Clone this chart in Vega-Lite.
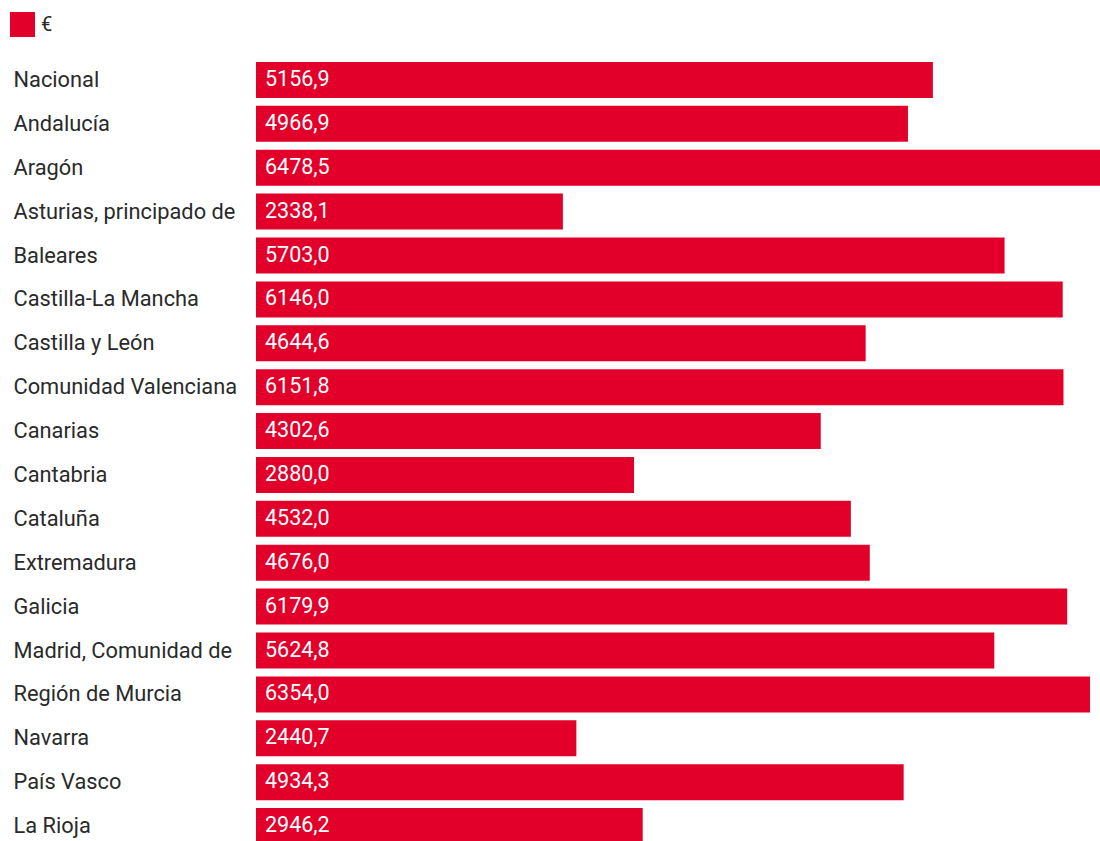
{
  "$schema": "https://vega.github.io/schema/vega-lite/v6.json",
  "autosize": "none",
  "width": 844,
  "height": 790,
  "padding": {"left": 256, "top": 58, "right": 0, "bottom": 0},
  "background": "white",
  "config": {
    "view": {"stroke": null},
    "font": "Roboto",
    "locale": {"number": {"decimal": ",", "thousands": ".", "grouping": [3], "currency": ["", " €"]}}
  },
  "data": {"values": [
    {"region": "Nacional", "value": 5156.9},
    {"region": "Andalucía", "value": 4966.9},
    {"region": "Aragón", "value": 6478.5},
    {"region": "Asturias, principado de", "value": 2338.1},
    {"region": "Baleares", "value": 5703.0},
    {"region": "Castilla-La Mancha", "value": 6146.0},
    {"region": "Castilla y León", "value": 4644.6},
    {"region": "Comunidad Valenciana", "value": 6151.8},
    {"region": "Canarias", "value": 4302.6},
    {"region": "Cantabria", "value": 2880.0},
    {"region": "Cataluña", "value": 4532.0},
    {"region": "Extremadura", "value": 4676.0},
    {"region": "Galicia", "value": 6179.9},
    {"region": "Madrid, Comunidad de", "value": 5624.8},
    {"region": "Región de Murcia", "value": 6354.0},
    {"region": "Navarra", "value": 2440.7},
    {"region": "País Vasco", "value": 4934.3},
    {"region": "La Rioja", "value": 2946.2}
  ]},
  "encoding": {
    "y": {
      "field": "region", "type": "nominal", "sort": null, "title": null,
      "scale": {"paddingInner": 0.18, "paddingOuter": 0.09},
      "axis": {"domain": false, "ticks": false, "labelAlign": "left", "labelPadding": 243, "labelFontSize": 21.8, "labelColor": "#2a2a2a", "labelLimit": 0, "labelFont": "Roboto"}
    },
    "x": {
      "field": "value", "type": "quantitative", "title": null,
      "scale": {"domain": [0, 6430], "nice": false, "zero": true},
      "axis": null
    }
  },
  "layer": [
    {
      "mark": {"type": "bar", "clip": true},
      "encoding": {
        "color": {
          "datum": "€",
          "scale": {"range": ["#e2002b"]},
          "legend": {"title": null, "orient": "none", "legendX": -246, "legendY": -46, "symbolType": "square", "symbolSize": 625, "symbolStrokeWidth": 0, "labelFontSize": 20, "labelColor": "#2a2a2a", "labelOffset": 6, "labelFont": "Roboto", "padding": 0}
        }
      }
    },
    {
      "mark": {"type": "text", "align": "left", "dx": 9, "color": "white", "fontSize": 21.5, "font": "Roboto"},
      "encoding": {
        "x": {"datum": 0},
        "text": {"field": "value", "type": "quantitative", "format": ".1f"}
      }
    }
  ]
}
